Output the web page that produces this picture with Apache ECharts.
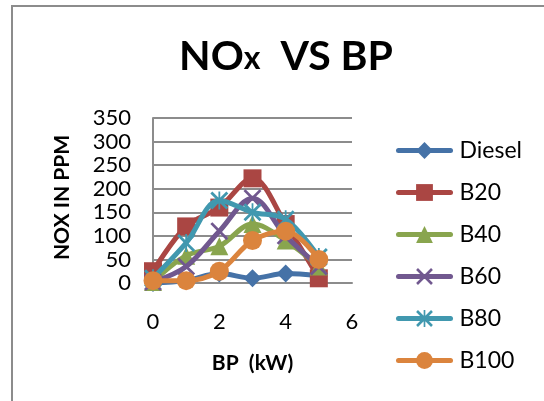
<!DOCTYPE html>
<html>
<head>
<meta charset="utf-8">
<script src="https://cdn.jsdelivr.net/npm/echarts@6/dist/echarts.min.js"></script>
<style>
  html, body { margin: 0; padding: 0; background: #fff; }
  #chart { width: 544px; height: 401px; }
</style>
</head>
<body>
<div id="chart"></div>
<script>
// Brake power (kW) at each test point
const bpValues = [0, 1, 2, 3, 4, 5];

// NOx emissions (ppm) per fuel blend
const diesel = [0, 5, 20, 10, 20, 15];
const b20 = [25, 120, 160, 222, 125, 10];
const b40 = [2, 58, 78, 125, 90, 35];
const b60 = [2, 35, 110, 180, 100, 35];
const b80 = [10, 85, 175, 150, 135, 55];
const b100 = [5, 5, 25, 90, 110, 50];

const seriesNames = ['Diesel', 'B20', 'B40', 'B60', 'B80', 'B100'];

// Axis ticks
const xTicks = [0, 2, 4, 6];
const yTicks = [0, 50, 100, 150, 200, 250, 300, 350];

const FONT = 'Lato';
const LINE_WIDTH = 5;

// Marker shapes drawn as filled outlines so the stroke-like markers keep their colour
const crossPath = 'path://M0,2.2L2.2,0L20,17.8L17.8,20ZM17.8,0L20,2.2L2.2,20L0,17.8Z';
const starPath = 'path://M0,2.2L2.2,0L20,17.8L17.8,20ZM17.8,0L20,2.2L2.2,20L0,17.8ZM9,0L11,0L11,20L9,20Z';

const styles = [
  { color: '#4572A7', symbol: 'diamond', size: 18 },
  { color: '#AA4643', symbol: 'rect', size: 18 },
  { color: '#89A54E', symbol: 'triangle', size: 18 },
  { color: '#71588F', symbol: crossPath, size: 18 },
  { color: '#4198AF', symbol: starPath, size: 18 },
  { color: '#DB843D', symbol: 'circle', size: 19 }
];

const values = [diesel, b20, b40, b60, b80, b100];

function pairs(ys) {
  return bpValues.map((x, i) => [x, ys[i]]);
}

const series = seriesNames.map((name, i) => ({
  name: name,
  type: 'line',
  data: pairs(values[i]),
  smooth: 0.35,
  symbol: styles[i].symbol,
  symbolSize: styles[i].size,
  symbolKeepAspect: true,
  showAllSymbol: true,
  lineStyle: { color: styles[i].color, width: LINE_WIDTH, cap: 'round', join: 'round' },
  itemStyle: { color: styles[i].color },
  emphasis: { disabled: true },
  animation: false,
  z: 2 + i
}));

const chart = echarts.init(document.getElementById('chart'), null, { renderer: 'canvas' });

chart.setOption({
  animation: false,
  backgroundColor: '#ffffff',
  graphic: [{
    type: 'rect',
    shape: { x: 12, y: 6, width: 600, height: 500 },
    style: { fill: 'none', stroke: '#8c8c8c', lineWidth: 2 },
    silent: true
  }],
  title: {
    text: '{a|NO}{b|x}{a|  VS BP}',
    left: 281,
    top: 31,
    textAlign: 'center',
    textStyle: {
      rich: {
        a: { fontFamily: FONT, fontWeight: 'bold', fontSize: 41, color: '#000' },
        b: { fontFamily: FONT, fontWeight: 'bold', fontSize: 32, color: '#000', verticalAlign: 'bottom', padding: [0, 0, 2, 0] }
      }
    }
  },
  grid: { left: 153, right: 192, top: 118, bottom: 118, containLabel: false },
  xAxis: {
    type: 'value',
    min: xTicks[0],
    max: xTicks[xTicks.length - 1],
    interval: 2,
    name: 'BP  (kW)',
    nameLocation: 'middle',
    nameGap: 70,
    nameTextStyle: { fontFamily: FONT, fontWeight: 'bold', fontSize: 21, color: '#000' },
    axisLine: { show: true, lineStyle: { color: '#8c8c8c', width: 2 } },
    axisTick: { show: false },
    splitLine: { show: false },
    axisLabel: { margin: 28, fontFamily: FONT, fontSize: 22, color: '#000' }
  },
  yAxis: {
    type: 'value',
    min: yTicks[0],
    max: yTicks[yTicks.length - 1],
    interval: 50,
    name: 'NOX IN PPM',
    nameLocation: 'middle',
    nameRotate: 90,
    nameGap: 80,
    nameTextStyle: { fontFamily: FONT, fontWeight: 'bold', fontSize: 21, color: '#000', padding: [0, 0, 0, 6] },
    axisLine: { show: true, lineStyle: { color: '#8c8c8c', width: 2 } },
    axisTick: { show: false },
    splitLine: { show: true, lineStyle: { color: '#8c8c8c', width: 2 } },
    axisLabel: { margin: 22, fontFamily: FONT, fontSize: 22, color: '#000' }
  },
  legend: {
    orient: 'vertical',
    left: 391,
    top: 134,
    itemWidth: 52,
    itemHeight: 21,
    itemGap: 19,
    selectedMode: false,
    data: seriesNames,
    lineStyle: { width: LINE_WIDTH, cap: 'round' },
    textStyle: { fontFamily: FONT, fontSize: 23, color: '#000', lineHeight: 21, padding: [0, 0, 0, 4] }
  },
  series: series
});
</script>
</body>
</html>
